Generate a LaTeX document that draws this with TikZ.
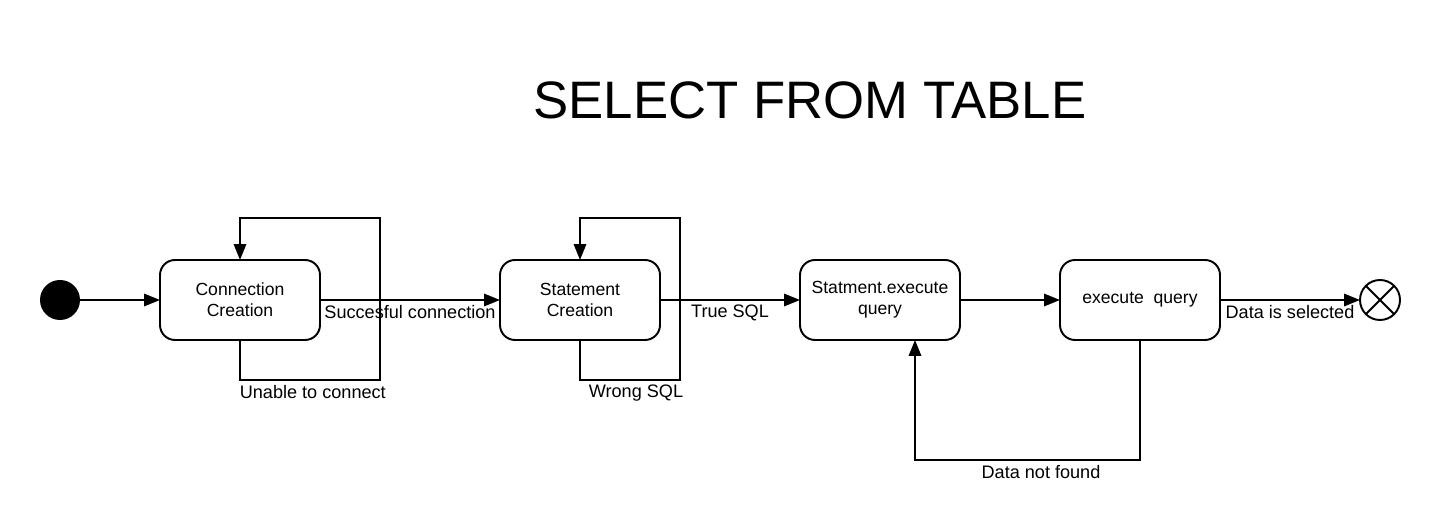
\documentclass[tikz,border=0pt]{standalone}
\usepackage{fontspec}
\setmainfont{Liberation Sans}
\usetikzlibrary{positioning,arrows.meta}

\begin{document}
\begin{tikzpicture}[
        line width=1.1pt,
        state/.style={draw, rounded corners=0.3cm, minimum width=3.2cm, outer sep=0pt,
          minimum height=1.6cm, align=center, font=\fontsize{10}{12}\selectfont},
        flow/.style={-{Triangle[length=9pt,width=7pt]}},
        lbl/.style={font=\fontsize{10.3}{12}\selectfont, inner sep=2.5pt}
      ]
        % picture size
        \useasboundingbox (0,0) rectangle (28.8,-10.52);
        % title
        \node (title) at (16.2,-2.0) {\fontsize{30}{36}\selectfont SELECT FROM TABLE};
        % start and states
        \node[circle, fill=black, minimum size=0.8cm, inner sep=0pt, outer sep=0pt] (start) at (1.2,-6) {};
        \node[state, right=1.6cm of start] (conn) {Connection\\Creation};
        \node[state, right=3.6cm of conn] (stmt) {Statement\\Creation};
        \node[state, right=2.8cm of stmt] (exec) {Statment.execute\\query};
        \node[state, right=2cm of exec] (query) {execute\ \ query};
        % end point
        \node[circle, draw, minimum size=0.8cm, inner sep=0pt, outer sep=0pt, right=2.8cm of query] (stop) {};
        \draw (stop.north west) -- (stop.south east) (stop.north east) -- (stop.south west);
        % corners of the loops
        \coordinate (l1) at (7.6,-4.36);
        \coordinate (l2) at (13.6,-4.36);
        \coordinate (l3) at (18.3,-9.2);
        % main flow
        \draw[flow] (start) -- (conn);
        \draw[flow] (conn) -- node[lbl, below] {Succesful connection} (stmt);
        \draw[flow] (stmt) -- node[lbl, below] {True SQL} (exec);
        \draw[flow] (exec) -- (query);
        \draw[flow] (query) -- node[lbl, below] {Data is selected} (stop);
        % loops back
        \draw[flow] (conn.south) -- ++(0,-0.8) -| node[lbl, below, pos=0.26] {Unable to connect} (l1) -| (conn.north);
        \draw[flow] (stmt.south) -- ++(0,-0.8) -| node[lbl, below, pos=0.28] {Wrong SQL} (l2) -| (stmt.north);
        \draw[flow] (query.south) |- node[lbl, below, pos=0.72] {Data not found} (l3) -- (l3 |- exec.south);
      \end{tikzpicture}
\end{document}
